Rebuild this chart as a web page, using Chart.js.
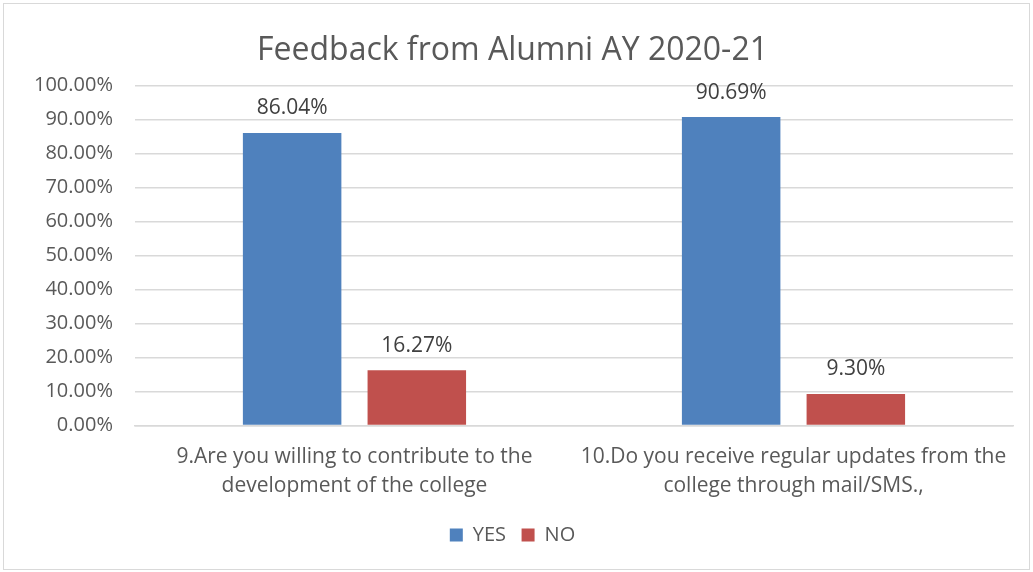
<!DOCTYPE html>
<html>
<head>
<meta charset="utf-8">
<script src="https://cdn.jsdelivr.net/npm/chart.js@4/dist/chart.umd.min.js"></script>
<style>
html,body{margin:0;padding:0;background:#fff;}
#wrap{position:absolute;left:3px;top:3px;width:1025px;height:565px;border:1px solid #D9D9D9;background:#fff;}
#c{position:absolute;left:-4px;top:-4px;}
</style>
</head>
<body>
<div id="wrap"><canvas id="c" width="1033" height="572"></canvas></div>
<script>
const categories = [
  ["9.Are you willing to contribute to the", "development of the college"],
  ["10.Do you receive regular updates from the", "college through mail/SMS.,"]
];
const yesValues = [86.04, 90.69];
const noValues = [16.27, 9.30];
const seriesNames = ["YES", "NO"];
const chartTitle = "Feedback from Alumni AY 2020-21";

const FONT = "'Open Sans', 'Liberation Sans', sans-serif";

const dataLabels = {
  id: 'dataLabels',
  afterDatasetsDraw(chart) {
    const ctx = chart.ctx;
    ctx.save();
    ctx.font = "21px " + FONT;
    ctx.fillStyle = "#404040";
    ctx.textAlign = "center";
    ctx.textBaseline = "bottom";
    chart.data.datasets.forEach((ds, i) => {
      const meta = chart.getDatasetMeta(i);
      meta.data.forEach((bar, j) => {
        ctx.fillText(ds.data[j].toFixed(2) + "%", bar.x, bar.y - 14);
      });
    });
    ctx.restore();
  }
};

new Chart(document.getElementById('c'), {
  type: 'bar',
  data: {
    labels: categories,
    datasets: [
      { label: seriesNames[0], data: yesValues, backgroundColor: '#4F81BD' },
      { label: seriesNames[1], data: noValues, backgroundColor: '#C0504D' }
    ]
  },
  options: {
    responsive: false,
    animation: false,
    devicePixelRatio: 1,
    categoryPercentage: 0.568,
    barPercentage: 0.79,
    layout: { padding: { left: 12, right: 20, top: 0, bottom: 17 } },
    plugins: {
      title: {
        display: true, text: chartTitle,
        font: { family: FONT, size: 32, weight: 'normal' },
        color: '#595959',
        padding: { top: 32, bottom: 15 }
      },
      legend: {
        position: 'bottom',
        labels: {
          boxWidth: 13, boxHeight: 13, padding: 15.5,
          font: { family: FONT, size: 20 },
          color: '#595959'
        }
      },
      tooltip: { enabled: false }
    },
    scales: {
      x: {
        grid: { display: false },
        border: { display: true, color: '#D9D9D9', width: 1.5 },
        ticks: {
          font: { family: FONT, size: 21, lineHeight: 1.38 },
          color: '#595959',
          padding: 9,
          maxRotation: 0, autoSkip: false
        }
      },
      y: {
        min: 0, max: 100,
        ticks: {
          stepSize: 10,
          font: { family: FONT, size: 20 },
          color: '#595959',
          padding: 22,
          callback: v => v.toFixed(2) + '%'
        },
        grid: { color: '#D9D9D9', lineWidth: 1.5, drawTicks: false },
        border: { display: false }
      }
    }
  },
  plugins: [dataLabels]
});
</script>
</body>
</html>
